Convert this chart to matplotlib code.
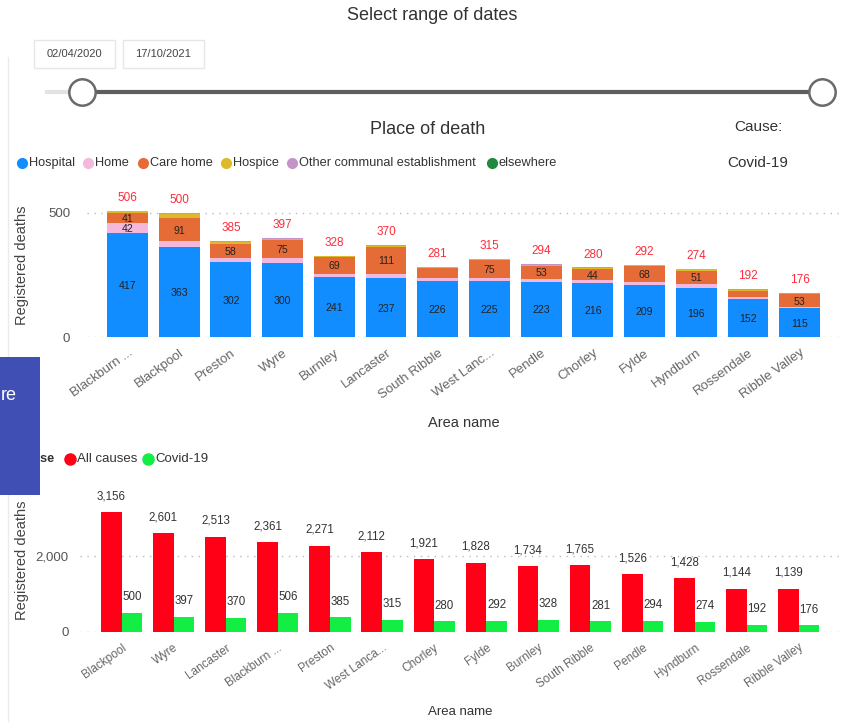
import numpy as np
import matplotlib
matplotlib.use('Agg')
import matplotlib.pyplot as plt
from matplotlib.patches import Rectangle
from matplotlib.lines import Line2D

plt.rcParams['font.family'] = ['Liberation Sans', 'DejaVu Sans']

# ================================
# DATA - place of death (top chart)
# ================================
areas_top = ['Blackburn ...', 'Blackpool', 'Preston', 'Wyre', 'Burnley', 'Lancaster',
             'South Ribble', 'West Lanc...', 'Pendle', 'Chorley', 'Fylde', 'Hyndburn',
             'Rossendale', 'Ribble Valley']
hospital = [417, 363, 302, 300, 241, 237, 226, 225, 223, 216, 209, 196, 152, 115]
home = [42, 24, 16, 17, 13, 16, 12, 11, 12, 13, 11, 19, 11, 5]
care_home = [41, 91, 58, 75, 69, 111, 40, 75, 53, 44, 68, 51, 24, 53]
hospice = [6, 18, 6, 4, 3, 4, 3, 2, 4, 4, 4, 6, 3, 2]
other_communal = [0, 4, 3, 1, 2, 2, 0, 2, 2, 3, 0, 2, 2, 1]
elsewhere = [0, 0, 0, 0, 0, 0, 0, 0, 0, 0, 0, 0, 0, 0]
totals_top = [506, 500, 385, 397, 328, 370, 281, 315, 294, 280, 292, 274, 192, 176]

place_names = ['Hospital', 'Home', 'Care home', 'Hospice',
               'Other communal establishment', 'elsewhere']
place_colors = ['#118DFF', '#F4B8DD', '#E66C37', '#DDBA2C', '#C494C8', '#1F8A3E']

# ================================
# DATA - all causes vs covid (bottom chart)
# ================================
areas_bottom = ['Blackpool', 'Wyre', 'Lancaster', 'Blackburn ...', 'Preston', 'West Lanca...',
                'Chorley', 'Fylde', 'Burnley', 'South Ribble', 'Pendle', 'Hyndburn',
                'Rossendale', 'Ribble Valley']
all_causes = [3156, 2601, 2513, 2361, 2271, 2112, 1921, 1828, 1734, 1765, 1526, 1428, 1144, 1139]
covid = [500, 397, 370, 506, 385, 315, 280, 292, 328, 281, 294, 274, 192, 176]

W, H = 845, 722


def fx(px):
    return px / W


def fy(py):
    return 1 - py / H


fig = plt.figure(figsize=(W / 100, H / 100), dpi=100)
fig.patch.set_facecolor('white')

# ================================
# HEADER - date slicer
# ================================
fig.text(fx(432), fy(15), 'Select range of dates', ha='center', va='center', fontsize=13, color='#333333')
for x0, label in [(34, '02/04/2020'), (123, '17/10/2021')]:
    fig.add_artist(Rectangle((fx(x0), fy(68)), fx(81), 28 / H, transform=fig.transFigure,
                             facecolor='white', edgecolor='#E6E6E6', lw=1))
    fig.text(fx(x0 + 40.5), fy(54), label, ha='center', va='center', fontsize=8, color='#444444')

fig.add_artist(Line2D([fx(47), fx(82)], [fy(92), fy(92)], transform=fig.transFigure,
                      color='#E3E3E3', lw=3))
fig.add_artist(Line2D([fx(82), fx(822)], [fy(92), fy(92)], transform=fig.transFigure,
                      color='#5E5E5E', lw=3))
for xc in [82, 822]:
    fig.add_artist(Line2D([fx(xc)], [fy(92)], transform=fig.transFigure, marker='o',
                          markersize=19, markerfacecolor='white', markeredgecolor='#6A6A6A',
                          markeredgewidth=1.8))

fig.text(fx(428), fy(130), 'Place of death', ha='center', va='center', fontsize=13, color='#333333')
fig.text(fx(758), fy(127), 'Cause:', ha='center', va='center', fontsize=11, color='#333333')
fig.text(fx(758), fy(163), 'Covid-19', ha='center', va='center', fontsize=11, color='#333333')

# faint panel border on the left
fig.add_artist(Line2D([fx(8), fx(8)], [fy(57), fy(722)], transform=fig.transFigure,
                      color='#EBEBEB', lw=1))

# ================================
# CHART 1 - Place of death (stacked)
# ================================
legend_x = [22, 88, 143, 226, 292, 492]
for xd, name, col in zip(legend_x, place_names, place_colors):
    fig.add_artist(Line2D([fx(xd)], [fy(163)], transform=fig.transFigure, marker='o',
                          markersize=7, markerfacecolor=col, markeredgecolor=col))
    fig.text(fx(xd + 7), fy(163), name, ha='left', va='center', fontsize=9.2, color='#333333')

ax1 = fig.add_axes([fx(87), fy(337), fx(840 - 87), (337 - 195) / H])
x = np.arange(len(areas_top))
stack = np.zeros(len(areas_top))
series = [hospital, home, care_home, hospice, other_communal, elsewhere]
for vals, col in zip(series, place_colors):
    vals = np.array(vals)
    ax1.bar(x, vals, 0.79, bottom=stack, color=col, linewidth=0, zorder=2)
    for i, v in enumerate(vals):
        if v >= 41:
            ax1.text(x[i], stack[i] + v / 2, str(v), ha='center', va='center_baseline',
                     fontsize=7.6, color='#222222', zorder=3)
    stack = stack + vals

for i, t in enumerate(totals_top):
    ax1.annotate(str(t), (x[i], t), xytext=(0, 5), textcoords='offset points',
                 ha='center', va='bottom', fontsize=8.5, color='#FF2B3A')

ax1.set_xlim(-0.783, 13.78)
ax1.set_ylim(0, 572)
ax1.set_yticks([0, 500])
ax1.set_yticklabels(['0', '500'])
ax1.set_xticks(x)
ax1.set_xticklabels(areas_top, rotation=36, ha='right', rotation_mode='anchor')
ax1.tick_params(axis='y', length=0, pad=12, labelsize=9.5, labelcolor='#555555')
ax1.tick_params(axis='x', length=0, pad=7, labelsize=9.5, labelcolor='#666666')
ax1.grid(axis='y', linestyle=(0, (1, 4)), color='#BBBBBB', lw=1, zorder=0)
for s in ax1.spines.values():
    s.set_visible(False)

fig.text(fx(22), fy(265), 'Registered deaths', rotation=90, ha='center', va='center',
         fontsize=10.5, color='#444444')
fig.text(fx(464), fy(423), 'Area name', ha='center', va='center', fontsize=10.5, color='#333333')

# ================================
# CHART 2 - All causes vs Covid-19
# ================================
fig.text(fx(55), fy(459), 'Cause', ha='right', va='center', fontsize=9.2,
         fontweight='bold', color='#333333')
for xd, name, col in [(70, 'All causes', '#FF0016'), (148, 'Covid-19', '#12EE44')]:
    fig.add_artist(Line2D([fx(xd)], [fy(459)], transform=fig.transFigure, marker='o',
                          markersize=8, markerfacecolor=col, markeredgecolor=col))
    fig.text(fx(xd + 7), fy(459), name, ha='left', va='center', fontsize=9.5, color='#333333')

ax2 = fig.add_axes([fx(80), fy(632), fx(760), 152 / H])
x2 = np.arange(len(areas_bottom))
bw = 0.395
ax2.bar(x2 - bw / 2, all_causes, bw, color='#FF0016', linewidth=0, zorder=2)
ax2.bar(x2 + bw / 2, covid, bw, color='#12EE44', linewidth=0, zorder=2)
for i in range(len(areas_bottom)):
    ax2.annotate(f'{all_causes[i]:,}', (x2[i] - bw / 2, all_causes[i]), xytext=(0, 7),
                 textcoords='offset points', ha='center', va='bottom', fontsize=8.3, color='#333333')
    ax2.annotate(f'{covid[i]:,}', (x2[i] + bw / 2, covid[i]), xytext=(0, 7),
                 textcoords='offset points', ha='center', va='bottom', fontsize=8.3, color='#333333')

ax2.set_xlim(-0.797, 13.79)
ax2.set_ylim(0, 4000)
ax2.set_yticks([0, 2000])
ax2.set_yticklabels(['0', '2,000'])
ax2.set_xticks(x2)
ax2.set_xticklabels(areas_bottom, rotation=35, ha='right', rotation_mode='anchor')
ax2.tick_params(axis='y', length=0, pad=8, labelsize=9.5, labelcolor='#555555')
ax2.tick_params(axis='x', length=0, pad=7, labelsize=8.5, labelcolor='#666666')
ax2.grid(axis='y', linestyle=(0, (1, 4)), color='#BBBBBB', lw=1, zorder=0)
for s in ax2.spines.values():
    s.set_visible(False)

fig.text(fx(22), fy(560), 'Registered deaths', rotation=90, ha='center', va='center',
         fontsize=10.5, color='#444444')
fig.text(fx(460), fy(712), 'Area name', ha='center', va='center', fontsize=9.5, color='#333333')

# blue overlay box on the left edge
fig.add_artist(Rectangle((0, fy(495)), fx(40), 138 / H, transform=fig.transFigure,
                         facecolor='#3F4FB3', edgecolor='none', zorder=10))
fig.text(fx(1), fy(396), 're', ha='left', va='center', fontsize=13, color='white', zorder=11)

plt.savefig('out.png', dpi=100)
